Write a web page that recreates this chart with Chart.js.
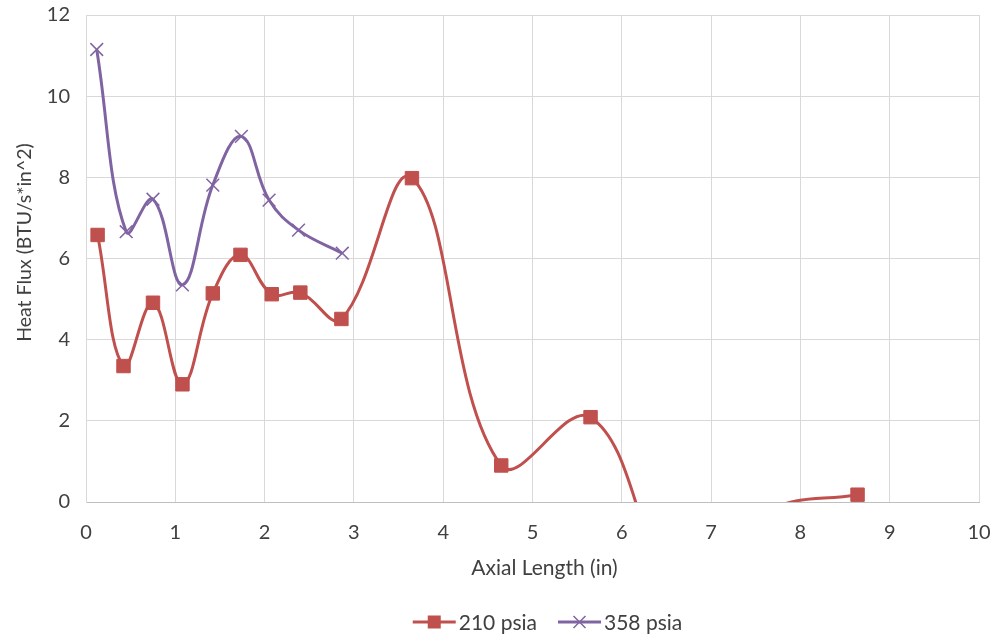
<!DOCTYPE html>
<html lang="en">

<head>
  <meta charset="UTF-8">
  <title>Heat Flux vs Axial Length</title>
  <script src="https://cdn.jsdelivr.net/npm/chart.js"></script>
  <style>
    body { margin: 0; background: #fff; }
    #wrap { width: 995px; height: 636px; }
  </style>
</head>

<body>
  <div id="wrap"><canvas id="fluxChart" width="995" height="636"></canvas></div>

  <script>
    // Axial stations (in) and measured heat flux (BTU/s*in^2)
    const len210 = [0.13, 0.42, 0.75, 1.08, 1.42, 1.73, 2.08, 2.40, 2.86, 3.65, 4.65, 5.65, 6.65, 7.65, 8.64];
    const flux210 = [6.58, 3.35, 4.91, 2.90, 5.14, 6.09, 5.12, 5.16, 4.51, 7.98, 0.90, 2.09, -2.0, -0.2, 0.18];

    const len358 = [0.12, 0.45, 0.75, 1.08, 1.42, 1.74, 2.05, 2.38, 2.87];
    const flux358 = [11.15, 6.66, 7.46, 5.35, 7.81, 9.01, 7.44, 6.70, 6.13];

    const seriesNames = ['210 psia', '358 psia'];
    const xTicks = [0, 1, 2, 3, 4, 5, 6, 7, 8, 9, 10];
    const yTicks = [0, 2, 4, 6, 8, 10, 12];
    const xTitle = 'Axial Length (in)';
    const yTitle = 'Heat Flux (BTU/s*in^2)';

    const RED = '#C0504D';
    const PURPLE = '#8064A2';
    const TEXT = '#404040';
    const FONT = 'Lato';

    const toPoints = (xs, ys) => xs.map((x, i) => ({ x: x, y: ys[i] }));

    // readings below the axis keep their line but get no marker
    const markerSize = r => ctx => (ctx.raw && ctx.raw.y < 0 ? 0 : r);

    // legend swatch: short line with the series marker in the middle
    function drawSwatch(ctx, x, y, color, style) {
      ctx.strokeStyle = color;
      ctx.fillStyle = color;
      ctx.lineWidth = 3;
      ctx.beginPath();
      ctx.moveTo(x, y);
      ctx.lineTo(x + 43, y);
      ctx.stroke();
      const cx = x + 21.5;
      if (style === 'rect') {
        ctx.fillRect(cx - 6.5, y - 6.5, 13, 13);
      } else {
        ctx.lineWidth = 1.5;
        ctx.beginPath();
        ctx.moveTo(cx - 6, y - 6); ctx.lineTo(cx + 6, y + 6);
        ctx.moveTo(cx + 6, y - 6); ctx.lineTo(cx - 6, y + 6);
        ctx.stroke();
      }
    }

    // axis titles and the legend row, placed off the chart area
    const chartText = {
      id: 'chartText',
      afterDraw(chart) {
        const ctx = chart.ctx;
        const area = chart.chartArea;
        const midX = (area.left + area.right) / 2;
        const midY = (area.top + area.bottom) / 2;
        ctx.save();
        ctx.fillStyle = TEXT;
        ctx.textAlign = 'center';
        ctx.textBaseline = 'alphabetic';

        ctx.font = '21px ' + FONT;
        ctx.fillText(xTitle, midX + 12, 575);

        ctx.save();
        ctx.translate(31, midY - 16);
        ctx.rotate(-Math.PI / 2);
        ctx.font = '19.5px ' + FONT;
        ctx.fillText(yTitle, 0, 0);
        ctx.restore();

        const styles = ['rect', 'x'];
        ctx.font = '21px ' + FONT;
        ctx.textAlign = 'left';
        ctx.textBaseline = 'middle';
        const widths = chart.data.datasets.map(ds => 46 + ctx.measureText(ds.label).width);
        const total = widths.reduce((a, b) => a + b, 0) + 21 * (widths.length - 1);
        let x = midX + 15 - total / 2;
        const y = 622;
        chart.data.datasets.forEach((ds, i) => {
          drawSwatch(ctx, x, y, ds.borderColor, styles[i]);
          ctx.fillStyle = TEXT;
          ctx.fillText(ds.label, x + 46, y + 1);
          x += widths[i] + 21;
        });
        ctx.restore();
      }
    };

    new Chart(document.getElementById('fluxChart'), {
      type: 'scatter',
      data: {
        datasets: [
          {
            label: seriesNames[0],
            data: toPoints(len210, flux210),
            showLine: true,
            borderColor: RED,
            backgroundColor: RED,
            borderWidth: 3,
            tension: 0.4,
            capBezierPoints: false,
            pointStyle: 'rect',
            pointRadius: markerSize(9.5),
            pointBorderWidth: 1,
            pointBackgroundColor: RED,
            pointBorderColor: RED
          },
          {
            label: seriesNames[1],
            data: toPoints(len358, flux358),
            showLine: true,
            borderColor: PURPLE,
            backgroundColor: PURPLE,
            borderWidth: 3,
            tension: 0.4,
            capBezierPoints: false,
            pointStyle: 'crossRot',
            pointRadius: markerSize(9),
            pointBorderWidth: 1.5,
            pointBorderColor: PURPLE
          }
        ]
      },
      plugins: [chartText],
      options: {
        responsive: false,
        animation: false,
        layout: { autoPadding: false, padding: { top: 15, right: 16, left: 0, bottom: 0 } },
        plugins: {
          tooltip: { enabled: false },
          legend: { display: false }
        },
        scales: {
          x: {
            type: 'linear',
            min: 0,
            max: 10,
            afterBuildTicks: s => { s.ticks = xTicks.map(v => ({ value: v })); },
            afterFit: s => { s.height = 134; s.paddingLeft = 0; s.paddingRight = 0; },
            grid: { color: '#d9d9d9', lineWidth: 1, drawTicks: false },
            border: { color: '#bfbfbf', width: 1 },
            ticks: { padding: 19, color: TEXT, font: { family: FONT, size: 20 } }
          },
          y: {
            type: 'linear',
            min: 0,
            max: 12,
            afterBuildTicks: s => { s.ticks = yTicks.map(v => ({ value: v })); },
            afterFit: s => { s.width = 86; s.paddingTop = 0; s.paddingBottom = 0; },
            grid: { color: '#d9d9d9', lineWidth: 1, drawTicks: false },
            border: { color: '#d9d9d9', width: 1 },
            ticks: { padding: 16, color: TEXT, font: { family: FONT, size: 20 } }
          }
        }
      }
    });
  </script>
</body>

</html>
